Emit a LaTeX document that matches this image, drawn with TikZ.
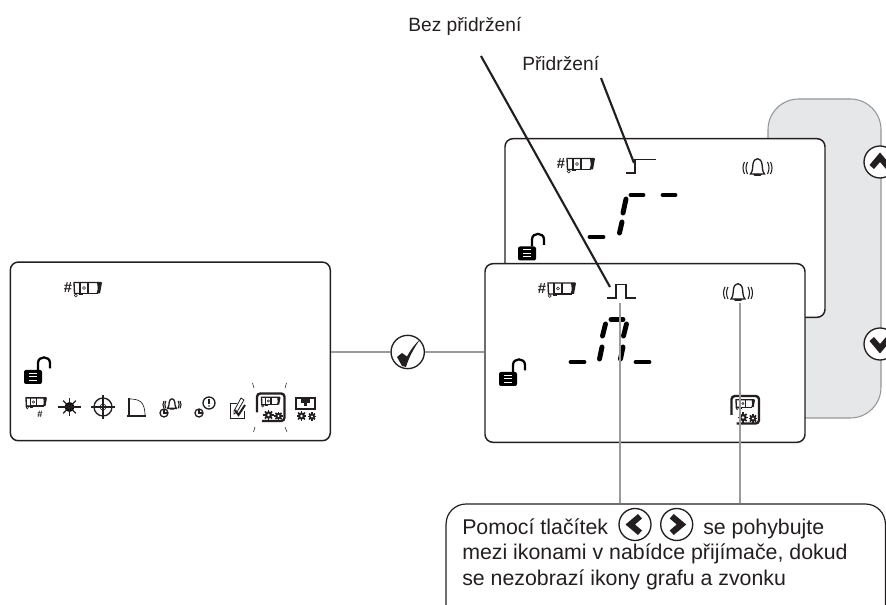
\documentclass[tikz,border=0pt]{standalone}
\usepackage{fontspec}
\setmainfont{Liberation Sans}
\definecolor{lcdink}{HTML}{231F20}
\definecolor{leadgray}{HTML}{9A9B9D}
\definecolor{casegray}{HTML}{E6E7E8}
\definecolor{caseedge}{HTML}{949598}
\tikzset{
  every pic/.style={yscale=-1},
  lcdpanel/.style={draw=lcdink,fill=white,line width=1.1pt,rounded corners=6pt,minimum width=240pt,minimum height=134pt,inner sep=0pt},
  casebox/.style={draw=caseedge,fill=casegray,line width=0.8pt,rounded corners=23pt,minimum width=84.75pt,minimum height=239.25pt,inner sep=0pt},
  roundbtn/.style={circle,draw=lcdink,fill=white,line width=1pt,minimum size=24pt,inner sep=0pt},
  notebox/.style={draw=lcdink,fill=white,line width=0.9pt,rounded corners=15pt,minimum width=329.5pt,minimum height=91.5pt,inner sep=0pt},
  leadline/.style={draw=leadgray,line width=1.9pt},
  blackline/.style={draw=lcdink,line width=1.6pt},
  lcdseg/.style={draw=black,line width=3.7pt,line cap=round},
  iconline/.style={draw=lcdink,line width=1pt},
  txtnode/.style={anchor=base west,inner sep=0pt,font=\fontsize{16}{16}\selectfont,text=lcdink},
  lbl/.style={anchor=base west,inner sep=0pt,font=\fontsize{14.4}{16}\selectfont,text=lcdink},
  camicon/.pic={
    \draw[iconline] (5,5.5) -- (0.5,5.5) -- (0,-5.5) -- (27,-5.5);
    \fill[lcdink] (23,-5.5) -- (28,-5.5) -- (26,5.5) -- (22.5,5.5) .. controls (24,2) .. cycle;
    \draw[iconline] (5,5.5) -- (24,5.5) (6,-5.5) -- (6,5.5) (14,-5.5) -- (14,5.5);
    \draw[iconline,line width=0.4pt] (10,0) circle (1.6) (1.8,7.5) circle (1.5);
    \draw[iconline,line width=1.2pt] (5,6.5) -- (9,6.5);
  },
  hashcam/.pic={
    \pic at (0,0) {camicon};
    \node[font=\fontsize{11}{11}\bfseries\selectfont,text=lcdink,inner sep=0pt] (-hash) at (-6,0) {\#};
  },
  lockicon/.pic={
    \fill[black,rounded corners=1.5pt] (0,0) rectangle (18,14);
    \draw[white,line width=0.75pt] (5,3.5) -- (13,3.5) (5,7) -- (13,7) (5,10.5) -- (13,10.5);
    \draw[draw=black,line width=1.7pt] (14,0) -- (14,-7) .. controls (14,-14.5) and (26,-14.5) .. (26,-7) -- (26,-1.5);
  },
  bellicon/.pic={
    \draw[iconline] (-7,7) .. controls (-4.5,4) and (-5,0) .. (-4.5,-3) .. controls (-3.5,-10) and (3.5,-10) .. (4.5,-3) .. controls (5,0) and (4.5,4) .. (7,7) -- cycle;
    \fill[lcdink] (-4.5,7) -- (4.5,7) -- (3,9) -- (-3,9) -- cycle;
    \draw[iconline,line width=0.8pt] (-10,-5) .. controls (-12,-1) and (-12,3) .. (-10,7) (-13,-5) .. controls (-15,-1) and (-15,3) .. (-13,7);
    \draw[iconline,line width=0.8pt] (10,-5) .. controls (12,-1) and (12,3) .. (10,7) (13,-5) .. controls (15,-1) and (15,3) .. (13,7);
  },
  gearicon/.pic={
    \foreach \a in {0,45,...,135}
      \draw[lcdink,line width=1.1pt] (\a:4.6) -- (\a+180:4.6);
    \fill[lcdink] (0,0) circle (3.4);
    \fill[white] (0,0) circle (1.3);
  },
  clockicon/.pic={
    \draw[iconline] (0,0) circle (4);
    \draw[iconline] (0,-4) -- (0,0) -- (4,0);
  },
  cfgicon/.pic={
    \draw[draw=lcdink,line width=1.8pt,rounded corners=2.5pt] (0.5,20) -- (0.5,1) -- (28,1) -- (28,28.5) -- (5.5,28.5);
    \pic[scale=0.68] at (5,8.5) {camicon};
    \pic[scale=1.1] at (12,22.5) {gearicon};
    \pic[scale=0.95] at (22,23.5) {gearicon};
  },
  chevicon/.pic={
    \fill[lcdink] (-10.5,4) -- (0,-8.5) -- (10.5,4) -- (6,8) -- (0,1) -- (-6,8) -- cycle;
  }
}
\begin{document}
\begin{tikzpicture}[x=0.75pt,y=0.75pt,yscale=-1,xscale=1]
\useasboundingbox (0,0) rectangle (886,605);
\clip (0,0) rectangle (886,605);

%Shape: Receiver case
\node[casebox] (casepanel) at (824.5,258.5) {};
\node[roundbtn] (upbtn) at (880,162) {};
\pic at (880,161) {chevicon};
\node[roundbtn] (downbtn) at (880,344) {};
\pic[rotate=180] at (880,345) {chevicon};

%Shape: Back display
\node[lcdpanel] (backpanel) at (665,228) {};
\pic at (567,164) {hashcam};
\draw[iconline] (626,173) -- (635,173) -- (635,159.5) -- (656,159.5);
\pic at (757.5,167) {bellicon};
\draw[lcdseg] (590,237) -- (603,237);
\draw[lcdseg] (626,199) -- (623,213);
\draw[lcdseg] (622,222) -- (619.5,233);
\draw[lcdseg] (631,195) -- (643,195);
\draw[lcdseg] (663,195) -- (675,195);
\pic at (518,246.5) {lockicon};

%Shape: Front display
\node[lcdpanel] (frontpanel) at (645,353) {};
\pic at (548,288.5) {hashcam};
\draw[iconline] (607,298) -- (616,298) -- (616,284.5) -- (626,284.5) -- (626,298) -- (636,298);
\pic at (738,292) {bellicon};
\draw[lcdseg] (571,362) -- (584,362);
\draw[lcdseg] (605.5,324) -- (602.5,336);
\draw[lcdseg] (602,347) -- (599.5,359);
\draw[lcdseg] (611,319.5) -- (623,319.5);
\draw[lcdseg] (626.5,324) -- (623.5,336);
\draw[lcdseg] (623,347) -- (620.5,359);
\draw[lcdseg] (636,362) -- (649,362);
\pic at (499,372) {lockicon};
\pic at (731,395) {cfgicon};

%Shape: Left display
\node[lcdpanel] (leftpanel) at (170.3,351.4) {};
\pic at (74,288) {hashcam};
\pic at (24,370) {lockicon};
\pic[scale=0.75] at (26,402) {camicon};
\node[font=\fontsize{7}{7}\bfseries\selectfont,text=lcdink,inner sep=0pt] (rowhash) at (40,414) {\#};

%Icon row
\fill[black] (69.5,407) circle (5);
\foreach \a in {0,45,...,315}
  \draw[iconline] (69.5,407) -- ++(\a:9);
\draw[iconline] (58,407) -- (81,407);
\draw[iconline] (103,407) circle (9);
\draw[iconline] (91,407) -- (115,407) (103,395) -- (103,419);
\draw[iconline,line width=0.4pt] (103,407) circle (3);
\draw[iconline] (129,398) -- (129,416) (127,416) -- (146,416);
\draw[iconline,line width=0.5pt] (129,399) .. controls (139,399) and (145,401) .. (145,416);
\pic[scale=0.62] at (172,404) {bellicon};
\pic at (164,413) {clockicon};
\draw[iconline] (209,403) circle (6);
\draw[iconline,line width=1.1pt] (209,399) -- (209,404);
\fill[lcdink] (209,406) circle (0.8);
\pic at (199,413) {clockicon};
\draw[iconline,line width=0.6pt] (237,403) -- (230,403) -- (230,418) -- (244,418) -- (244,411);
\draw[iconline,line width=0.6pt] (234,411) -- (241,398) -- (244,400) -- (237,412) -- (234,414) -- cycle;
\draw[iconline,line width=1.5pt] (235,410) -- (238.5,415) -- (245,405);
\pic at (256.5,392.5) {cfgicon};
\draw[iconline,line width=0.4pt] (252.5,383) -- (254,388) (286.5,383) -- (285,388) (255,427) -- (253.5,432) (285,427) -- (287,432);
\draw[iconline] (296,398) rectangle (315,409);
\fill[lcdink] (301,398) rectangle (310,403);
\fill[lcdink] (304,403) rectangle (307,406);
\pic[scale=1.05] at (301.5,416) {gearicon};
\pic[scale=0.9] at (312,416.5) {gearicon};

%Straight Lines
\node[roundbtn,minimum size=25pt] (checkbtn) at (407.7,352) {};
\fill[lcdink] (397,357) -- (402,353) -- (407,356.5) .. controls (411,349) and (415,344) .. (420,339.5) .. controls (414,348) and (409,357) .. (406,367) -- (402,366) -- cycle;
\draw[leadline] (leftpanel.east |- checkbtn) -- (checkbtn);
\draw[leadline] (checkbtn) -- (frontpanel.west |- checkbtn);

%Shape: Note box
\node[notebox] (notepanel) at (665.75,565) {};
\node[roundbtn] (leftbtn) at (635,524.5) {};
\pic[rotate=90] at (634,524.5) {chevicon};
\node[roundbtn] (rightbtn) at (676.7,524.5) {};
\pic[rotate=-90] at (677.7,524.5) {chevicon};

%Straight Lines
\coordinate (pulsefoot) at (620,303);
\coordinate (bellfoot) at (740,303);
\draw[leadline] (pulsefoot) -- (pulsefoot |- notepanel.north);
\draw[leadline] (bellfoot) -- (bellfoot |- notepanel.north);
\coordinate (holdstart) at (601,78);
\coordinate (holdend) at (634,163);
\coordinate (freestart) at (481,56);
\coordinate (freeend) at (610,287);
\draw[blackline] (holdstart) -- (holdend);
\draw[blackline] (freestart) -- (freeend);

% Text Node
\node[lbl] (freelabel) at (408,32) {Bez přidržení};
% Text Node
\node[lbl] (holdlabel) at (522,71) {Přidržení};
% Text Node
\node[txtnode] (noteone) at (462,534.5) {Pomocí tlačítek};
% Text Node
\node[txtnode] (noteonb) at (703,534.5) {se pohybujte};
% Text Node
\node[txtnode] (notetwo) at (462,560) {mezi ikonami v nabídce přijímače, dokud};
% Text Node
\node[txtnode] (notethree) at (462,585.5) {se nezobrazí ikony grafu a zvonku};

\end{tikzpicture}
\end{document}
